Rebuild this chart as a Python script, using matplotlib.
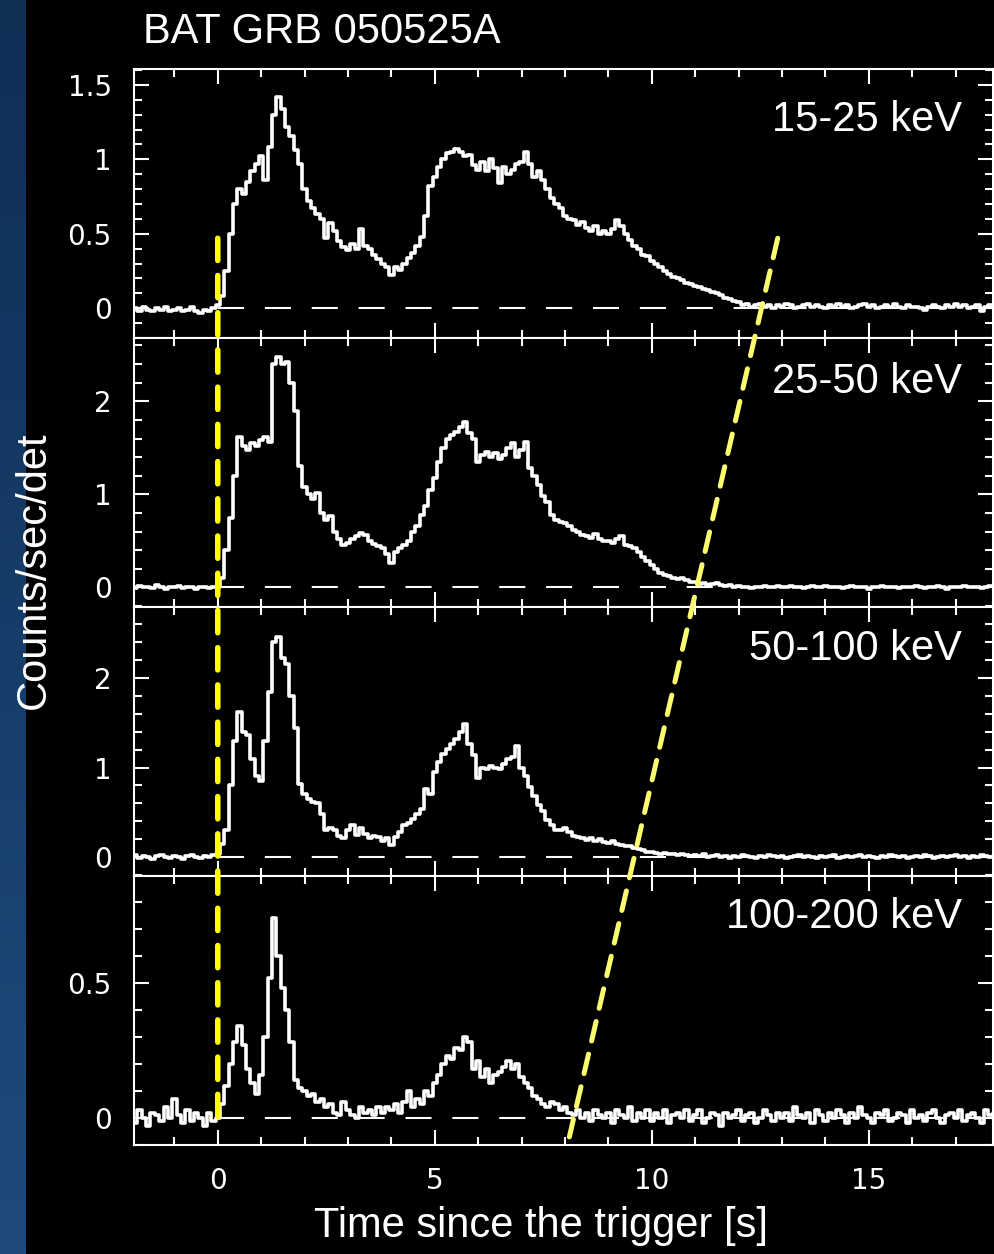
"""Light curves of GRB 050525A in the four BAT energy bands"""

import numpy as np
import matplotlib
matplotlib.use("Agg")
import matplotlib.pyplot as plt
from matplotlib.patches import ConnectionPatch
from matplotlib.ticker import MultipleLocator, FuncFormatter

# 0.1 s bins from -2 s to 18 s
time = np.round(np.arange(-20, 181) * 0.1, 1)

rate_15_25 = [
    -0.01, 0.00, -0.02, 0.01, -0.01, -0.02, 0.00, -0.01, 0.01, -0.02,
    -0.01, 0.00, -0.02, -0.01, 0.01, -0.02, -0.03, -0.01, -0.02, 0.00,
    0.02, 0.08, 0.25, 0.50, 0.70, 0.80, 0.77, 0.85, 0.92, 0.97,
    1.02, 0.86, 1.08, 1.30, 1.42, 1.34, 1.22, 1.16, 1.06, 0.97,
    0.80, 0.72, 0.67, 0.63, 0.60, 0.47, 0.57, 0.52, 0.45, 0.41,
    0.39, 0.43, 0.40, 0.53, 0.42, 0.40, 0.36, 0.33, 0.30, 0.28,
    0.22, 0.28, 0.26, 0.30, 0.34, 0.37, 0.42, 0.48, 0.62, 0.82,
    0.88, 0.95, 1.00, 1.04, 1.05, 1.07, 1.05, 1.02, 1.03, 0.96,
    0.93, 0.98, 0.92, 1.00, 0.94, 0.84, 0.95, 0.90, 0.93, 0.97,
    0.98, 1.05, 0.97, 0.88, 0.92, 0.86, 0.80, 0.74, 0.70, 0.67,
    0.62, 0.60, 0.59, 0.56, 0.58, 0.54, 0.52, 0.55, 0.50, 0.52,
    0.50, 0.53, 0.59, 0.55, 0.50, 0.46, 0.42, 0.40, 0.36, 0.35,
    0.32, 0.30, 0.28, 0.25, 0.23, 0.21, 0.20, 0.19, 0.17, 0.16,
    0.15, 0.14, 0.13, 0.12, 0.11, 0.10, 0.09, 0.07, 0.06, 0.05,
    0.04, 0.02, 0.03, 0.01, 0.02, 0.03, 0.01, 0.02, 0.00, 0.02,
    0.01, 0.03, 0.02, 0.00, 0.01, 0.02, 0.03, 0.01, 0.02, 0.01,
    0.00, 0.02, 0.01, 0.03, 0.01, 0.02, 0.00, 0.01, 0.02, 0.03,
    0.01, 0.02, 0.00, 0.01, 0.02, 0.01, 0.03, 0.01, 0.00, 0.02,
    0.01, 0.01, 0.00, -0.01, 0.01, 0.02, 0.01, 0.00, 0.02, 0.01,
    0.03, 0.01, 0.02, 0.00, 0.01, 0.02, -0.02, 0.01, 0.02, 0.01,
    0.01,
]

rate_25_50 = [
    0.01, -0.01, 0.02, 0.00, 0.01, -0.01, 0.03, 0.00, -0.02, 0.01,
    0.00, 0.02, -0.01, 0.01, 0.00, -0.02, 0.01, 0.00, -0.01, 0.01,
    0.01, 0.10, 0.40, 0.75, 1.20, 1.62, 1.52, 1.48, 1.55, 1.52,
    1.58, 1.62, 1.56, 2.40, 2.48, 2.40, 2.42, 2.20, 1.90, 1.30,
    1.08, 1.00, 0.95, 1.02, 0.80, 0.73, 0.77, 0.60, 0.52, 0.46,
    0.48, 0.52, 0.55, 0.58, 0.56, 0.50, 0.47, 0.44, 0.42, 0.36,
    0.26, 0.38, 0.42, 0.46, 0.50, 0.60, 0.66, 0.78, 0.88, 1.05,
    1.18, 1.35, 1.50, 1.60, 1.64, 1.67, 1.72, 1.78, 1.66, 1.60,
    1.35, 1.42, 1.46, 1.40, 1.44, 1.38, 1.42, 1.50, 1.55, 1.40,
    1.48, 1.56, 1.28, 1.20, 1.10, 0.98, 0.92, 0.78, 0.72, 0.70,
    0.69, 0.66, 0.62, 0.60, 0.56, 0.55, 0.53, 0.57, 0.52, 0.50,
    0.50, 0.48, 0.52, 0.55, 0.46, 0.44, 0.42, 0.38, 0.33, 0.28,
    0.24, 0.20, 0.16, 0.13, 0.12, 0.10, 0.09, 0.10, 0.08, 0.06,
    0.06, 0.04, 0.05, 0.03, 0.04, 0.05, 0.03, 0.02, 0.03, 0.01,
    0.02, 0.00, 0.01, -0.01, 0.00, 0.01, 0.02, 0.00, 0.01, 0.02,
    0.00, 0.01, 0.02, 0.00, 0.01, -0.01, 0.01, 0.02, 0.00, 0.01,
    0.02, 0.00, 0.01, 0.01, -0.01, 0.00, 0.02, 0.01, 0.00, 0.01,
    -0.02, 0.01, 0.00, 0.02, 0.01, 0.00, 0.01, -0.01, 0.01, 0.00,
    0.01, 0.02, 0.00, -0.01, 0.01, 0.00, 0.02, 0.01, -0.02, 0.00,
    0.01, 0.00, 0.02, 0.01, 0.00, 0.01, -0.01, 0.01, 0.02, 0.00,
    0.01,
]

rate_50_100 = [
    0.00, 0.02, -0.01, 0.01, 0.00, -0.02, 0.01, 0.02, 0.00, -0.01,
    0.01, 0.00, -0.02, 0.01, 0.02, 0.00, -0.01, 0.01, 0.00, 0.02,
    0.03, 0.15, 0.30, 0.80, 1.30, 1.62, 1.40, 1.36, 1.10, 0.90,
    0.85, 1.30, 1.84, 2.40, 2.45, 2.22, 2.15, 1.80, 1.44, 0.82,
    0.70, 0.65, 0.62, 0.60, 0.48, 0.30, 0.32, 0.30, 0.24, 0.21,
    0.30, 0.36, 0.25, 0.32, 0.26, 0.21, 0.24, 0.22, 0.18, 0.21,
    0.14, 0.22, 0.28, 0.36, 0.38, 0.43, 0.48, 0.54, 0.76, 0.70,
    0.95, 1.06, 1.15, 1.21, 1.26, 1.32, 1.40, 1.48, 1.26, 1.14,
    0.88, 1.00, 0.98, 1.02, 1.00, 0.98, 1.04, 1.09, 1.12, 1.24,
    1.00, 0.90, 0.78, 0.68, 0.58, 0.52, 0.42, 0.36, 0.30, 0.30,
    0.32, 0.28, 0.24, 0.22, 0.21, 0.19, 0.21, 0.18, 0.20, 0.17,
    0.16, 0.18, 0.15, 0.14, 0.12, 0.13, 0.10, 0.09, 0.08, 0.06,
    0.06, 0.05, 0.04, 0.05, 0.03, 0.04, 0.02, 0.03, 0.02, 0.01,
    0.02, 0.01, 0.03, 0.00, 0.01, 0.02, 0.00, 0.01, -0.01, 0.01,
    0.00, 0.02, 0.01, 0.00, -0.01, 0.01, 0.00, 0.02, 0.01, 0.00,
    0.01, -0.01, 0.00, 0.01, 0.02, 0.00, 0.01, 0.00, -0.01, 0.01,
    0.00, 0.01, 0.02, -0.01, 0.00, 0.01, 0.00, 0.01, 0.02, 0.00,
    0.01, 0.00, -0.01, 0.01, 0.00, 0.02, 0.01, 0.00, 0.01, -0.01,
    0.00, 0.01, 0.00, 0.02, 0.01, -0.01, 0.00, 0.01, 0.00, 0.01,
    0.02, 0.00, 0.01, -0.01, 0.01, 0.00, 0.02, 0.01, 0.00, 0.01,
    0.00,
]

rate_100_200 = [
    0.01, -0.02, 0.03, 0.00, -0.03, 0.02, 0.01, -0.01, 0.04, 0.00,
    0.07, 0.01, -0.02, 0.03, -0.01, 0.02, 0.00, -0.03, 0.02, -0.01,
    0.00, 0.05, 0.12, 0.20, 0.28, 0.34, 0.27, 0.18, 0.13, 0.09,
    0.16, 0.30, 0.52, 0.74, 0.60, 0.48, 0.40, 0.28, 0.14, 0.11,
    0.10, 0.08, 0.09, 0.06, 0.07, 0.04, 0.05, 0.02, 0.01, 0.06,
    0.03, 0.01, 0.00, 0.04, 0.02, 0.03, 0.01, 0.04, 0.02, 0.04,
    0.03, 0.05, 0.02, 0.06, 0.10, 0.04, 0.07, 0.05, 0.10, 0.08,
    0.13, 0.16, 0.20, 0.23, 0.22, 0.26, 0.25, 0.30, 0.28, 0.18,
    0.21, 0.15, 0.18, 0.13, 0.16, 0.17, 0.19, 0.21, 0.18, 0.20,
    0.15, 0.13, 0.11, 0.08, 0.07, 0.05, 0.04, 0.06, 0.05, 0.03,
    0.04, 0.02, 0.01, 0.03, 0.00, 0.02, -0.01, 0.03, 0.01, 0.00,
    0.02, -0.02, 0.03, 0.01, 0.00, 0.04, -0.01, 0.02, 0.00, 0.03,
    -0.01, 0.02, 0.00, 0.03, -0.02, 0.01, 0.02, 0.00, 0.03, -0.01,
    0.01, 0.03, -0.02, 0.00, 0.02, 0.01, -0.03, 0.02, 0.00, 0.01,
    0.03, -0.01, 0.01, 0.02, -0.02, 0.00, 0.03, 0.01, -0.01, 0.02,
    0.00, 0.02, -0.01, 0.04, 0.01, 0.00, 0.02, -0.02, 0.03, 0.01,
    -0.01, 0.02, 0.00, 0.03, 0.01, -0.02, 0.02, 0.00, 0.04, 0.01,
    0.00, -0.02, 0.02, 0.01, 0.03, -0.01, 0.00, 0.02, 0.01, -0.02,
    0.03, 0.00, 0.01, -0.01, 0.02, 0.03, 0.00, -0.02, 0.01, 0.02,
    0.00, 0.03, -0.01, 0.01, 0.02, 0.00, -0.02, 0.03, 0.01, 0.02,
    0.01,
]

rates = [rate_15_25, rate_25_50, rate_50_100, rate_100_200]
bands = ["15-25 keV", "25-50 keV", "50-100 keV", "100-200 keV"]
y_limits = [(-0.20, 1.607), (-0.21, 2.68), (-0.21, 2.79), (-0.10, 0.896)]
y_major = [0.5, 1, 1, 0.5]
y_minor = [0.1, 0.2, 0.2, 0.1]

# T90 markers: start at the trigger, end drifting to earlier times with energy
t90_start = 0.0
t90_start_top = 0.47
t90_end_top = (12.9, 0.47)      # (time, rate) in the 15-25 keV panel
t90_end_bottom = (8.1, -0.07)   # (time, rate) in the 100-200 keV panel

plt.rcParams["font.family"] = ["Liberation Sans", "DejaVu Sans"]

fig = plt.figure(figsize=(9.94, 12.54), dpi=100, facecolor="black")

# blue strip along the left edge
strip = fig.add_axes([0, 0, 26 / 994, 1])
grad = np.linspace(0, 1, 256).reshape(-1, 1)
strip.imshow(grad, aspect="auto", cmap=matplotlib.colors.LinearSegmentedColormap.from_list(
    "strip", ["#0f2f55", "#163d69", "#1e4b7c"]), extent=[0, 1, 0, 1], origin="upper")
strip.axis("off")

gs = fig.add_gridspec(4, 1, left=134 / 994, right=993 / 994, top=1 - 69 / 1254,
                      bottom=1 - 1145 / 1254, hspace=0)
axes = [fig.add_subplot(gs[i]) for i in range(4)]

label_y = [0.81, 0.836, 0.844, 0.847]
tick_font = matplotlib.font_manager.FontProperties(family=["DejaVu Sans"], size=20)

for i, ax in enumerate(axes):
    ax.set_facecolor("black")
    ax.plot(time, rates[i], color="white", lw=2.6, drawstyle="steps-mid", zorder=3)
    ax.plot([t90_start, 18], [0, 0], color="white", lw=1.5, dashes=(12.5, 10), zorder=2)
    ax.set_xlim(-1.93, 17.86)
    ax.set_ylim(*y_limits[i])

    ax.xaxis.set_major_locator(MultipleLocator(5))
    ax.xaxis.set_minor_locator(MultipleLocator(1))
    ax.yaxis.set_major_locator(MultipleLocator(y_major[i]))
    ax.yaxis.set_minor_locator(MultipleLocator(y_minor[i]))
    ax.yaxis.set_major_formatter(FuncFormatter(lambda v, p: "%g" % v))
    ax.xaxis.set_major_formatter(FuncFormatter(lambda v, p: "%g" % v))

    ax.tick_params(which="both", direction="in", top=True, right=True, colors="white",
                   width=1.5)
    ax.tick_params(which="major", length=11, pad=16)
    ax.tick_params(which="minor", length=6)
    for lab in ax.get_yticklabels() + ax.get_xticklabels():
        lab.set_fontproperties(tick_font)
    if i < 3:
        ax.tick_params(labelbottom=False)

    for sp in ax.spines.values():
        sp.set_color("white")
        sp.set_linewidth(1.5)

    ax.text(0.964, label_y[i], bands[i], transform=ax.transAxes, ha="right",
            va="center", color="white", fontsize=30)

# T90 start and end lines spanning all four panels
start_line = ConnectionPatch(xyA=(t90_start, t90_start_top), coordsA=axes[0].transData,
                             xyB=(t90_start, 0), coordsB=axes[3].transData,
                             color="#ffff00", lw=4, linestyle=(0, (4, 2.7)), zorder=5)
end_line = ConnectionPatch(xyA=t90_end_top, coordsA=axes[0].transData,
                           xyB=t90_end_bottom, coordsB=axes[3].transData,
                           color="#fbfb6e", lw=3.6, linestyle=(0, (4, 2.7)), zorder=5)
fig.add_artist(start_line)
fig.add_artist(end_line)

fig.text(143 / 994, 1 - 32 / 1254, "BAT GRB 050525A", color="white", fontsize=30,
         ha="left", va="center")
fig.text(34 / 994, 1 - 570 / 1254, "Counts/sec/det", color="white", fontsize=30,
         rotation=90, ha="center", va="center")
fig.text(541 / 994, 1 - 1226 / 1254, "Time since the trigger [s]", color="white",
         fontsize=30, ha="center", va="center")

fig.savefig("out.png", dpi=100, facecolor="black")
